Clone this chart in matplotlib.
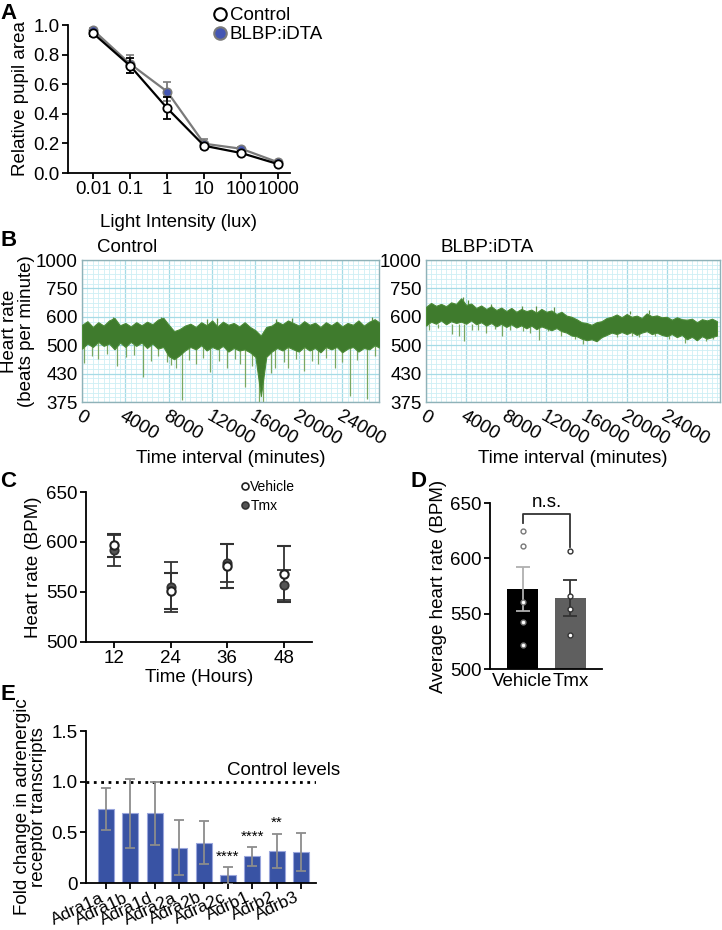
import matplotlib
matplotlib.use("Agg")
import matplotlib.pyplot as plt
import numpy as np
from matplotlib.lines import Line2D
from matplotlib.ticker import FixedLocator

plt.rcParams['font.family'] = ['Liberation Sans', 'DejaVu Sans']
plt.rcParams['font.size'] = 13.5

# ---- Panel A: pupil response ----
lux = [0.01, 0.1, 1, 10, 100, 1000]
ctrl_pupil = [0.944, 0.724, 0.438, 0.184, 0.135, 0.06]
ctrl_pupil_err = [0.015, 0.05, 0.075, 0.012, 0.015, 0.008]
blbp_pupil = [0.966, 0.737, 0.55, 0.198, 0.164, 0.072]
blbp_pupil_err = [0.012, 0.063, 0.063, 0.035, 0.01, 0.006]

# ---- Panel B: heart rate traces (band top / bottom every 500 min) ----
ctrl_t = np.arange(0, 28000, 500)
ctrl_hi = [568, 582, 560, 578, 565, 585, 595, 566, 575, 562,
           578, 566, 580, 570, 588, 596, 568, 545, 552, 565,
           572, 560, 578, 566, 585, 562, 580, 568, 575, 562,
           578, 560, 548, 530, 560, 565, 580, 570, 585, 575,
           565, 582, 568, 576, 560, 578, 566, 580, 562, 575,
           568, 585, 565, 580, 590, 575]
ctrl_lo = [490, 505, 495, 510, 498, 505, 488, 508, 495, 510,
           498, 508, 492, 505, 490, 495, 470, 462, 472, 485,
           495, 488, 500, 485, 495, 488, 498, 482, 492, 485,
           488, 480, 468, 385, 468, 482, 492, 485, 495, 488,
           482, 495, 485, 492, 480, 495, 488, 495, 480, 490,
           495, 482, 492, 488, 500, 492]
ctrl_dn_t = [200, 900, 1500, 2300, 3200, 4100, 4800, 5650, 6400, 7000,
             7800, 8200, 8700, 9200, 9900, 10500, 11200, 11800, 12600, 13400,
             14100, 14600, 15030, 15700, 16300, 16700, 17400, 17800, 18600, 19000,
             19700, 20500, 21200, 21800, 22500, 23300, 24000, 24700, 25400, 26250, 27000]
ctrl_dn_min = [453, 470, 462, 475, 445, 468, 472, 421, 458, 470,
               455, 448, 440, 378, 460, 450, 465, 432, 458, 440,
               462, 450, 402, 445, 375, 375, 430, 440, 455, 440,
               462, 435, 458, 450, 465, 440, 455, 385, 460, 380, 470]
ctrl_up_t = [2900, 7300, 11500, 12500, 17900, 19400, 26800]
ctrl_up_max = [600, 600, 590, 595, 590, 595, 598]

blbp_t = np.arange(0, 29500, 500)
blbp_hi = [645, 665, 650, 660, 648, 668, 660, 690, 655, 662,
           640, 652, 635, 648, 630, 642, 625, 640, 622, 635,
           625, 632, 618, 635, 622, 628, 612, 622, 605, 600,
           590, 578, 575, 568, 578, 582, 595, 600, 610, 598,
           612, 600, 605, 595, 615, 602, 606, 598, 600, 588,
           598, 590, 588, 592, 578, 590, 585, 592, 582]
blbp_lo = [565, 580, 572, 585, 570, 582, 575, 580, 572, 585,
           570, 578, 565, 575, 562, 572, 560, 570, 558, 566,
           555, 565, 552, 562, 555, 548, 556, 545, 540, 530,
           528, 520, 515, 518, 512, 525, 532, 540, 535, 542,
           535, 542, 532, 540, 545, 535, 540, 532, 528, 535,
           525, 532, 518, 526, 515, 528, 520, 525, 530]
blbp_dn_t = [300, 1200, 2600, 3300, 3800, 4600, 5200, 6000, 6900, 7600,
             8400, 9700, 10400, 11300, 12200, 13500, 14800, 15600, 19000, 20500,
             21200, 22800, 24200, 25800, 26900, 27900, 28600]
blbp_dn_min = [548, 555, 535, 530, 512, 548, 550, 540, 552, 528,
               548, 545, 540, 515, 545, 530, 520, 505, 525, 530,
               525, 528, 520, 508, 515, 512, 518]
blbp_up_t = [3700, 4200, 6500, 9600, 11000, 12800, 20300, 22200]
blbp_up_max = [700, 680, 660, 650, 648, 645, 625, 628]

bpm_ticks = [375, 428.57, 500, 600, 750, 1000]
bpm_labels = ['375', '430', '500', '600', '750', '1000']

# ---- Panel C ----
hours = ['12', '24', '36', '48']
veh_hr = [597, 551, 576, 568]
veh_hr_err = [11.5, 18, 22, 28]
tmx_hr = [592, 555, 579, 557]
tmx_hr_err = [15.5, 25, 19, 15]

# ---- Panel D ----
groups = ['Vehicle', 'Tmx']
veh_pts = [624.8, 610.7, 560.3, 542.3, 522.0]
tmx_pts = [607.0, 566.3, 554.0, 530.3]
avg_hr = [572.0, 564.4]
avg_hr_err = [19.8, 16.2]

# ---- Panel E ----
receptors = ['Adra1a', 'Adra1b', 'Adra1d', 'Adra2a', 'Adra2b', 'Adra2c', 'Adrb1', 'Adrb2', 'Adrb3']
fold = [0.729, 0.686, 0.686, 0.35, 0.396, 0.076, 0.264, 0.317, 0.304]
fold_err = [0.21, 0.345, 0.313, 0.275, 0.213, 0.082, 0.092, 0.165, 0.185]
stars = {5: ('****', 0.26), 6: ('****', 0.455), 7: ('**', 0.594)}

W, H = 722, 930
fig = plt.figure(figsize=(W / 100, H / 100), dpi=100)


def box(x0, y0, x1, y1):
    return [x0 / W, 1 - y1 / H, (x1 - x0) / W, (y1 - y0) / H]


def clean(ax):
    for s in ['top', 'right']:
        ax.spines[s].set_visible(False)
    for s in ['left', 'bottom']:
        ax.spines[s].set_linewidth(1.3)
    ax.tick_params(direction='out', length=4, width=1.3, pad=2)


# Panel A
axA = fig.add_axes(box(68, 25, 290, 173))
clean(axA)
axA.errorbar(lux, blbp_pupil, yerr=blbp_pupil_err, color='#7a7a7a', lw=1.6,
             marker='o', ms=6, mfc='#4456b3', mec='#7a7a7a', mew=1.2,
             capsize=3, elinewidth=1.3, zorder=3)
axA.errorbar(lux, ctrl_pupil, yerr=ctrl_pupil_err, color='black', lw=1.6,
             marker='o', ms=6, mfc='white', mec='black', mew=1.3,
             capsize=3, elinewidth=1.3, zorder=4)
axA.set_xscale('log')
axA.set_xlim(10 ** -2.68, 10 ** 3.32)
axA.set_ylim(0, 1.0)
axA.set_xticks(lux)
axA.set_xticklabels(['0.01', '0.1', '1', '10', '100', '1000'])
axA.minorticks_off()
axA.set_yticks([0, 0.2, 0.4, 0.6, 0.8, 1.0])
axA.set_yticklabels(['0.0', '0.2', '0.4', '0.6', '0.8', '1.0'])
axA.set_ylabel('Relative pupil area', labelpad=3)
axA.set_xlabel('Light Intensity (lux)', labelpad=11)
hA = [Line2D([], [], ls='none', marker='o', ms=9, mfc='white', mec='black', mew=1.5),
      Line2D([], [], ls='none', marker='o', ms=9, mfc='#4456b3', mec='#7a7a7a', mew=1.5)]
axA.legend(hA, ['Control', 'BLBP:iDTA'], loc='upper left', bbox_to_anchor=(0.66, 1.12),
           frameon=False, handlelength=0.6, handletextpad=0.2, borderpad=0,
           labelspacing=0.1, borderaxespad=0)


# Panel B
def trace(ax, t, lo, hi, dt, dmin, dtop, ut, umax, ubot, xmax, title):
    ax.set_yscale('function', functions=(lambda y: -1.0 / y, lambda v: -1.0 / v))
    ax.set_ylim(375, 1000)
    ax.set_xlim(0, xmax)
    ax.vlines(dt, dmin, dtop, color='#7aa862', lw=0.9, zorder=2)
    ax.vlines(ut, ubot, umax, color='#5d9147', lw=0.9, zorder=2)
    ax.fill_between(t, lo, hi, color='#3f7b2d', lw=0.8, edgecolor='#4a8a36', zorder=3)
    ax.set_yticks(bpm_ticks)
    ax.set_yticklabels(bpm_labels)
    ax.yaxis.set_minor_locator(FixedLocator(60000 / np.arange(60, 160.01, 10 / 3)))
    ax.set_xticks(np.arange(0, 24001, 4000))
    ax.set_xticklabels([str(v) for v in range(0, 24001, 4000)], rotation=-30,
                       ha='left', va='top', rotation_mode='anchor')
    ax.xaxis.set_minor_locator(FixedLocator(np.arange(0, 30000, 500)))
    ax.grid(which='minor', color='#cdeff5', lw=0.6)
    ax.grid(which='major', color='#a6dbe6', lw=0.9)
    ax.set_axisbelow(True)
    for s in ax.spines.values():
        s.set_color('#8fb2b8')
        s.set_linewidth(1.0)
    ax.tick_params(which='both', length=0, pad=3)
    ax.tick_params(axis='x', pad=4)
    ax.set_xlabel('Time interval (minutes)', labelpad=1)
    ax.text(0.05, 1.03, title, transform=ax.transAxes, ha='left', va='bottom')


axB1 = fig.add_axes(box(82, 260, 379, 402))
trace(axB1, ctrl_t, ctrl_lo, ctrl_hi, ctrl_dn_t, ctrl_dn_min, 520,
      ctrl_up_t, ctrl_up_max, 560, 27400, 'Control')
axB1.set_ylabel('Heart rate\n(beats per minute)', labelpad=1, linespacing=0.95)
axB2 = fig.add_axes(box(426, 260, 720, 402))
trace(axB2, blbp_t, blbp_lo, blbp_hi, blbp_dn_t, blbp_dn_min, 570,
      blbp_up_t, blbp_up_max, 610, 29300, 'BLBP:iDTA')

# Panel C
axC = fig.add_axes(box(86, 492, 312, 642))
clean(axC)
xc = np.arange(len(hours))
axC.errorbar(xc, tmx_hr, yerr=tmx_hr_err, ls='none', marker='o', ms=6, mfc='#555555',
             mec='#333333', mew=1.3, ecolor='#333333', elinewidth=1.3, capsize=5, capthick=1.3)
axC.errorbar(xc, veh_hr, yerr=veh_hr_err, ls='none', marker='o', ms=6, mfc='white',
             mec='#222222', mew=1.5, ecolor='#333333', elinewidth=1.3, capsize=5, capthick=1.3)
axC.set_xlim(-0.5, 3.5)
axC.set_ylim(500, 650)
axC.set_xticks(xc)
axC.set_xticklabels(hours)
axC.set_yticks([500, 550, 600, 650])
axC.set_ylabel('Heart rate (BPM)', labelpad=3)
axC.set_xlabel('Time (Hours)', labelpad=1)
hC = [Line2D([], [], ls='none', marker='o', ms=5, mfc='white', mec='#222222', mew=1.2),
      Line2D([], [], ls='none', marker='o', ms=5, mfc='#555555', mec='#333333', mew=1.2)]
axC.legend(hC, ['Vehicle', 'Tmx'], loc='upper left', bbox_to_anchor=(0.69, 1.08),
           frameon=False, fontsize=10, handlelength=0.5, handletextpad=0.1,
           borderpad=0, labelspacing=0.35, borderaxespad=0)

# Panel D
axD = fig.add_axes(box(490, 503, 602, 669))
clean(axD)
axD.bar([0, 1], avg_hr, width=0.65, color=['black', '#5f5f5f'], zorder=2)
axD.errorbar([0], avg_hr[:1], yerr=avg_hr_err[:1], ls='none', ecolor='#b0b0b0',
             elinewidth=1.3, capsize=5, capthick=1.3, zorder=3)
axD.errorbar([1], avg_hr[1:], yerr=avg_hr_err[1:], ls='none', ecolor='#333333',
             elinewidth=1.3, capsize=5, capthick=1.3, zorder=3)
axD.plot([0] * len(veh_pts), veh_pts, ls='none', marker='o', ms=3.5, mfc='white',
         mec='#777777', mew=1.0, zorder=4)
axD.plot([1] * len(tmx_pts), tmx_pts, ls='none', marker='o', ms=3.5, mfc='white',
         mec='#333333', mew=1.0, zorder=4)
axD.plot([0, 0, 1, 1], [632, 640, 640, 610], color='#333333', lw=1.3)
axD.text(0.5, 643, 'n.s.', ha='center', va='bottom')
axD.set_xlim(-0.68, 1.66)
axD.set_ylim(500, 650)
axD.set_xticks([0, 1])
axD.set_xticklabels(groups)
axD.tick_params(axis='x', length=0, pad=3)
axD.set_yticks([500, 550, 600, 650])
axD.set_ylabel('Average heart rate (BPM)', labelpad=2)

# Panel E
axE = fig.add_axes(box(86, 731, 316, 883))
clean(axE)
xe = np.arange(len(receptors))
axE.bar(xe, fold, width=0.66, color='#3953a4', edgecolor='#9aa6dc', lw=0.8, zorder=2)
axE.errorbar(xe, fold, yerr=fold_err, ls='none', ecolor='#8c8c8c', elinewidth=1.3,
             capsize=3.5, capthick=1.3, zorder=3)
axE.axhline(1.0, color='black', ls=':', lw=2)
axE.text(9.59, 1.115, 'Control levels', ha='right', va='center')
for i, (s, y) in stars.items():
    axE.text(i, y, s, ha='center', va='center', fontsize=11)
axE.set_xlim(-0.82, 8.61)
axE.set_ylim(0, 1.5)
axE.set_yticks([0, 0.5, 1.0, 1.5])
axE.set_yticklabels(['0', '0.5', '1.0', '1.5'])
axE.set_xticks(xe)
axE.set_xticklabels(receptors, rotation=25, ha='right', fontsize=12.5)
axE.tick_params(axis='x', pad=1)
axE.set_ylabel('Fold change in adrenergic\nreceptor transcripts', labelpad=3, linespacing=0.95)

# panel letters
for lab, x, y in [('A', 0, 3), ('B', 0, 230), ('C', 0, 471), ('D', 410, 471), ('E', 0, 684)]:
    fig.text(x / W, 1 - y / H, lab, fontsize=16, fontweight='bold', ha='left', va='top')

fig.savefig('out.png', dpi=100)
